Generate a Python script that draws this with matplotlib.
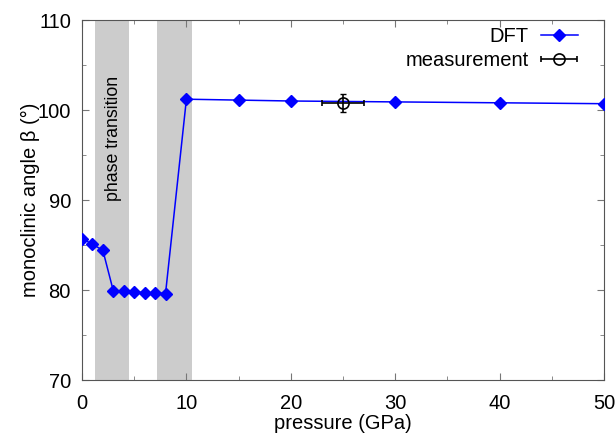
import matplotlib
matplotlib.use("Agg")
import matplotlib.pyplot as plt
from matplotlib.ticker import MultipleLocator
from matplotlib.legend_handler import HandlerErrorbar

plt.rcParams['font.family'] = ['Liberation Sans', 'DejaVu Sans']

# DFT results
pressure = [0, 1, 2, 3, 4, 5, 6, 7, 8, 10, 15, 20, 30, 40, 50]
beta = [85.7, 85.1, 84.4, 79.9, 79.9, 79.8, 79.7, 79.7, 79.6,
        101.2, 101.1, 101.0, 100.9, 100.8, 100.7]

# measurement
meas_p = [25]
meas_beta = [100.8]
meas_perr = [2]
meas_berr = [1]

# shaded phase-transition regions
regions = [(1.2, 4.5), (7.2, 10.5)]

fs = 14.5

fig = plt.figure(figsize=(6.16, 4.34), dpi=100)
ax = fig.add_axes([82 / 616, 1 - 380 / 434, 522 / 616, 360 / 434])

for lo, hi in regions:
    ax.axvspan(lo, hi, color='#cccccc', lw=0, zorder=0)

ax.plot(pressure, beta, color='blue', marker='D', markersize=6.5, lw=1.1,
        label='DFT', zorder=3)
# vertical error bar (no legend entry), then marker + horizontal bar
ax.errorbar(meas_p, meas_beta, yerr=meas_berr, fmt='none', ecolor='black',
            elinewidth=1.2, capsize=2, zorder=4)
ax.errorbar(meas_p, meas_beta, xerr=meas_perr, fmt='o', color='black',
            mfc='none', markersize=8, mew=1.2, elinewidth=1.2, capsize=2,
            label='measurement', zorder=4)

ax.text(3.0, 96.8, 'phase transition', rotation=90, ha='center', va='center',
        fontsize=12.8)

ax.set_xlim(0, 50)
ax.set_ylim(70, 110)
ax.xaxis.set_major_locator(MultipleLocator(10))
ax.xaxis.set_minor_locator(MultipleLocator(5))
ax.yaxis.set_major_locator(MultipleLocator(10))
ax.yaxis.set_minor_locator(MultipleLocator(5))
ax.tick_params(which='both', direction='in', top=True, right=True,
               labelsize=fs, color='#777777', pad=8)
ax.tick_params(axis='x', which='both', pad=10)
ax.tick_params(which='major', length=5)
ax.tick_params(which='minor', length=3)
for s in ax.spines.values():
    s.set_color('#555555')

ax.set_xlabel('pressure (GPa)', fontsize=fs, labelpad=1)
ax.set_ylabel('monoclinic angle β (°)', fontsize=fs, labelpad=-2)

ax.legend(loc='upper right', bbox_to_anchor=(0.950, 0.981), frameon=False,
          markerfirst=False, fontsize=fs, handlelength=1.85, borderpad=0,
          borderaxespad=0, labelspacing=0.25, handletextpad=0.6,
          handler_map={type(ax.containers[-1]): HandlerErrorbar(xerr_size=0.9)})

fig.savefig('out.png', dpi=100)
